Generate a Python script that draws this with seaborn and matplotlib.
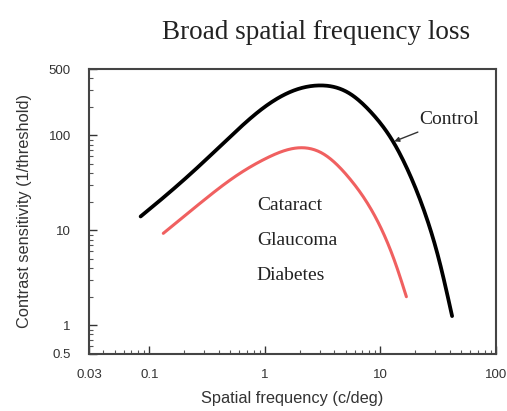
import numpy as np
import pandas as pd
import matplotlib
matplotlib.use("Agg")
import matplotlib.pyplot as plt
import matplotlib.ticker as mticker
import seaborn as sns

# Data
control_freq = [0.084, 0.132, 0.26, 0.50, 0.96, 1.89, 2.98, 5.4, 8.5, 12.7, 17.8, 24.9, 32.3, 41.8]
control_sens = [14.0, 22.1, 45.7, 96.6, 193, 305, 336, 277, 170, 88.6, 39.8, 14.0, 4.83, 1.25]
loss_freq = [0.132, 0.275, 0.53, 1.04, 2.0, 3.16, 5.4, 9.24, 13.7, 16.8]
loss_sens = [9.3, 19.3, 35.6, 57.8, 74.1, 64.6, 35.3, 13.2, 4.28, 2.0]
x_ticks = [0.03, 0.1, 1, 10, 100]
x_ticklabels = ["0.03", "0.1", "1", "10", "100"]
y_ticks = [0.5, 1, 10, 100, 500]
y_ticklabels = ["0.5", "1", "10", "100", "500"]
conditions = ["Cataract", "Glaucoma", "Diabetes"]


def natural_spline(xs, ys, n=300):
    """Natural cubic spline through the read points, in log-log space."""
    x = np.log10(np.asarray(xs, float))
    y = np.log10(np.asarray(ys, float))
    k = len(x)
    h = np.diff(x)
    A = np.zeros((k, k))
    b = np.zeros(k)
    A[0, 0] = A[-1, -1] = 1
    for i in range(1, k - 1):
        A[i, i - 1] = h[i - 1]
        A[i, i] = 2 * (h[i - 1] + h[i])
        A[i, i + 1] = h[i]
        b[i] = 3 * ((y[i + 1] - y[i]) / h[i] - (y[i] - y[i - 1]) / h[i - 1])
    c = np.linalg.solve(A, b)
    t = np.linspace(x[0], x[-1], n)
    out = np.empty_like(t)
    for j, v in enumerate(t):
        i = int(np.clip(np.searchsorted(x, v) - 1, 0, k - 2))
        d = v - x[i]
        bi = (y[i + 1] - y[i]) / h[i] - h[i] * (2 * c[i] + c[i + 1]) / 3
        di = (c[i + 1] - c[i]) / (3 * h[i])
        out[j] = y[i] + bi * d + c[i] * d**2 + di * d**3
    return 10 ** t, 10 ** out


cx, cy = natural_spline(control_freq, control_sens)
lx_, ly_ = natural_spline(loss_freq, loss_sens)
df = pd.concat([
    pd.DataFrame({"freq": cx, "sens": cy, "group": "Control"}),
    pd.DataFrame({"freq": lx_, "sens": ly_, "group": "Loss"}),
])

sns.set_style("white")
plt.rcParams["font.family"] = ["Liberation Sans", "DejaVu Sans"]

fig = plt.figure(figsize=(5.07, 4.11), dpi=100)
ax = fig.add_axes([0.1755, 0.139, 0.8025, 0.693])

sns.lineplot(data=df[df.group == "Control"], x="freq", y="sens", color="black",
             linewidth=2.7, ax=ax, sort=False, legend=False)
sns.lineplot(data=df[df.group == "Loss"], x="freq", y="sens", color="#f06060",
             linewidth=2.2, ax=ax, sort=False, legend=False)

ax.set_xscale("log")
ax.set_yscale("log")
ax.set_xlim(0.03, 100)
ax.set_ylim(0.5, 500)
ax.set_xticks(x_ticks)
ax.set_xticklabels(x_ticklabels)
ax.set_yticks(y_ticks)
ax.set_yticklabels(y_ticklabels)
ax.xaxis.set_minor_locator(mticker.LogLocator(base=10, subs=np.arange(2, 10)))
ax.yaxis.set_minor_locator(mticker.LogLocator(base=10, subs=np.arange(2, 10)))
ax.xaxis.set_minor_formatter(mticker.NullFormatter())
ax.yaxis.set_minor_formatter(mticker.NullFormatter())
ax.tick_params(which="major", direction="in", length=6, width=1, labelsize=9.5,
               colors="#333333", top=False, right=False, bottom=True, left=True)
ax.tick_params(axis="x", which="major", pad=11)
ax.tick_params(axis="y", which="major", pad=13)
ax.tick_params(which="minor", direction="in", length=3, width=0.8, colors="#555555",
               top=False, right=False, bottom=True, left=True)
for s in ax.spines.values():
    s.set_color("#444444")
    s.set_linewidth(1.5)

ax.set_xlabel("Spatial frequency (c/deg)", fontsize=11.8, color="#333333", labelpad=7)
ax.set_ylabel("Contrast sensitivity (1/threshold)", fontsize=11.8, color="#333333", labelpad=12)

serif = ["Liberation Serif", "DejaVu Serif"]
fig.text(0.624, 0.922, "Broad spatial frequency loss", family=serif, fontsize=19.5,
         ha="center", va="center", color="#222222")
ax.annotate("Control", xy=(13.2, 86.5), xytext=(21.7, 146), family=serif, fontsize=14,
            color="#222222", ha="left", va="center",
            arrowprops=dict(arrowstyle="-|>", color="#333333", lw=1.0,
                            mutation_scale=7, shrinkA=1, shrinkB=0))
for i, name in enumerate(conditions):
    ax.text(0.853, 18.3 / (2.33 ** i), name, family=serif, fontsize=14, color="#222222",
            ha="left", va="center")

fig.savefig("out.png", dpi=100)
